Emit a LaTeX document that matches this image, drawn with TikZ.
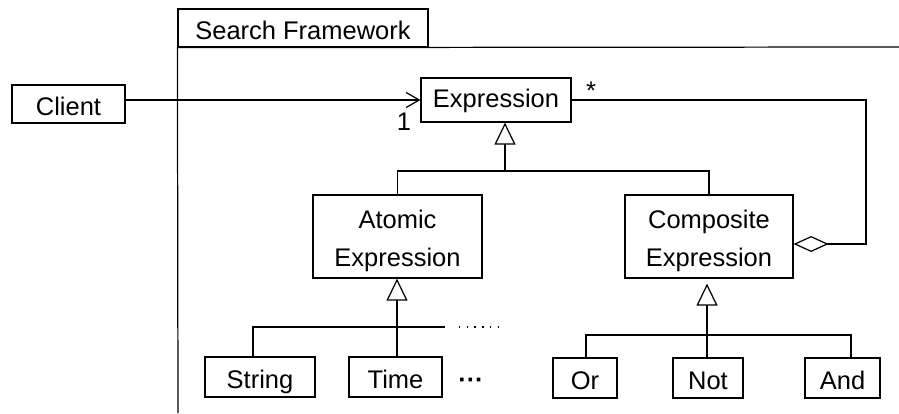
\documentclass[tikz,border=0pt]{standalone}
\usepackage{fontspec}
\setmainfont{Liberation Sans}
\usetikzlibrary{arrows.meta,positioning}

\begin{document}
\begin{tikzpicture}[x=0.02cm, y=-0.02cm, line width=0.7pt,
    font=\fontsize{14.5}{21.6}\selectfont,
    cls/.style={draw, inner sep=0pt, align=center},
    line/.style={cls, text height=13pt, text depth=0pt},
    small/.style={line, minimum height=0.8cm},
    gen/.style={-{Triangle[open, length=0.44cm, width=0.42cm]}},
    aggr/.style={-{Diamond[open, length=0.7cm, width=0.32cm]}},
    nav/.style={-{Straight Barb[length=0.26cm, width=0.3cm]}}]
  \useasboundingbox (0,0) rectangle (899,413);

  % Package frame
  \node[line, minimum width=5cm, minimum height=0.76cm] (pkg) at (303,28) {Search Framework};
  \draw (pkg.south west) -- (178,413);
  \draw (pkg.south west) -- (899,47);

  % Classes
  \node[line, minimum width=2.26cm, minimum height=0.76cm] (client) at (68.5,104) {Client};
  \node[line, text height=11pt, text depth=2pt, minimum width=3cm, minimum height=0.88cm] (expr) at (496,100) {Expression};
  \node[cls, minimum width=3.38cm, minimum height=1.66cm] (atomic) at (397.5,236.5) {\rule{0pt}{16pt}Atomic\\Expression};
  \node[cls, minimum width=3.36cm, minimum height=1.66cm] (composite) at (709,236.5) {\rule{0pt}{16pt}Composite\\Expression};

  % Leaves
  \node[small, minimum width=2.2cm] (string) at (260,377) {String};
  \node[small, minimum width=1.86cm] (time) at (395.5,377) {Time};
  \node (dots) at (471,383) {\bfseries ···};
  \node[small, minimum width=1.28cm] (or) at (585,378) {Or};
  \node[small, minimum width=1.4cm] (not) at (708,378) {Not};
  \node[small, minimum width=1.5cm] (and) at (842.5,378) {And};

  % Association
  \draw[nav] (client.east |- expr.west) -- (expr.west);
  \node (one) at (404,122) {1};
  \node (many) at (591,91) {*};

  % Aggregation
  \draw[aggr] (expr.east) -- (866,100) |- ([yshift=-0.15cm]composite.east);

  % Generalization of Expression
  \coordinate (j1) at (505,171);
  \draw (atomic.north) |- (j1) -| (composite.north);
  \draw[gen] (j1) -- (j1 |- expr.south);

  % Generalization of Atomic Expression
  \coordinate (j2) at (397,327);
  \coordinate (s2) at (253,327);
  \coordinate (e2) at (445,327);
  \draw (s2 |- string.north) -- (s2) -- (e2);
  \draw[dash pattern=on 0.8pt off 3.6pt] (459,327) -- (505,327);
  \draw[gen] (j2 |- time.north) -- (j2 |- atomic.south);

  % Generalization of Composite Expression
  \coordinate (j3) at (707,335);
  \coordinate (s3) at (586,335);
  \coordinate (e3) at (851,335);
  \draw (s3 |- or.north) -- (s3) -- (e3) -- (e3 |- and.north);
  \draw[gen] (j3 |- not.north) -- ([yshift=-0.1cm]j3 |- composite.south);
\end{tikzpicture}
\end{document}
